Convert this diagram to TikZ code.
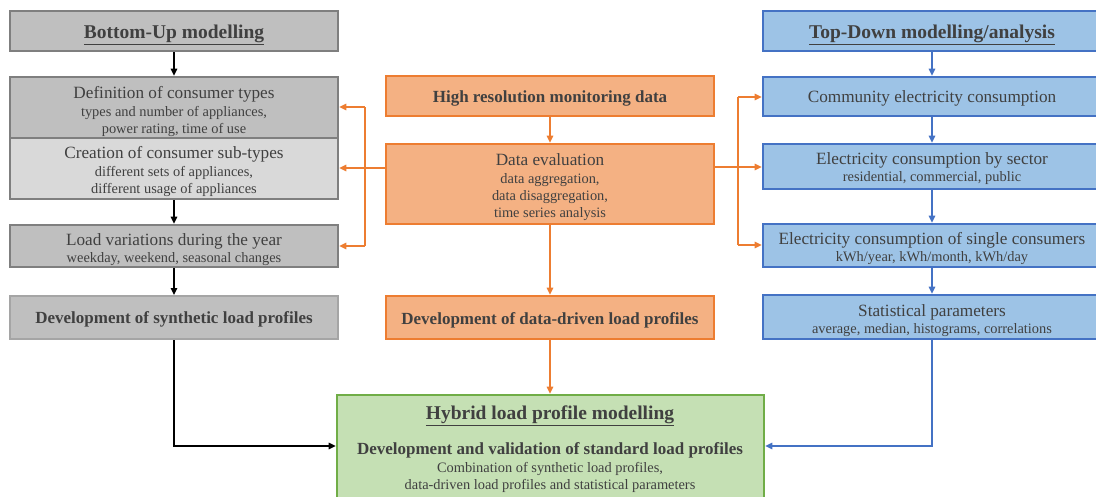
\documentclass[tikz,border=0pt]{standalone}
\usepackage{fontspec}
\setmainfont{Liberation Serif}
\usetikzlibrary{arrows.meta}

\definecolor{txt}{HTML}{404040}
\definecolor{grayfill}{HTML}{BFBFBF}
\definecolor{grayfillL}{HTML}{D9D9D9}
\definecolor{grayline}{HTML}{7F7F7F}
\definecolor{graylineL}{HTML}{A5A5A5}
\definecolor{orfill}{HTML}{F4B183}
\definecolor{orline}{HTML}{ED7D31}
\definecolor{blfill}{HTML}{9DC3E6}
\definecolor{blline}{HTML}{4472C4}
\definecolor{grfill}{HTML}{C5E0B4}
\definecolor{grline}{HTML}{70AD47}

\newcommand\fHdr{\fontsize{19.5}{23}\selectfont\bfseries}
\newcommand\fMain{\fontsize{17.2}{20}\selectfont}
\newcommand\fBold{\fontsize{17}{20}\selectfont\bfseries}
\newcommand\fSmall{\fontsize{14.4}{17}\selectfont}

\tikzset{
  box/.style={draw, line width=2.6pt, inner sep=0pt},
  graybox/.style={box, fill=grayfill, draw=grayline},
  grayboxL/.style={box, fill=grayfillL, draw=grayline},
  orbox/.style={box, fill=orfill, draw=orline},
  blbox/.style={box, fill=blfill, draw=blline},
  grbox/.style={box, fill=grfill, draw=grline},
  boxtext/.style={inner sep=0pt, align=center, text=txt, font=\fSmall},
  tip/.style={-{Triangle[length=7pt,width=6.5pt]}},
  karr/.style={tip, line width=1.4pt, draw=black},
  oarr/.style={tip, line width=1.4pt, draw=orline},
  oline/.style={line width=1.4pt, draw=orline},
  barr/.style={tip, line width=1.4pt, draw=blline},
}

\begin{document}
\begin{tikzpicture}[x=1pt,y=-1pt]
\path[use as bounding box] (0,0) rectangle (1096,496);
\clip (0,0) rectangle (1096,496);

% ---------- Bottom-up column ----------
\node[graybox, minimum width=328pt, minimum height=40pt] (hdrL) at (174,31) {};
\node[graybox, minimum width=328pt, minimum height=61pt] (def) at (174,107.5) {};
\node[grayboxL, minimum width=328pt, minimum height=61pt] (cre) at (174,168.5) {};
\node[graybox, minimum width=328pt, minimum height=42pt] (load) at (174,246) {};
\node[graybox, draw=graylineL, line width=2pt, minimum width=328pt, minimum height=43pt] (synth) at (174,317.5) {};

\node[boxtext, font=\fHdr] (hdrL-t) at ([yshift=-3.5pt]hdrL.center) {\underline{Bottom-Up modelling}};
\node[boxtext] (def-t) at ([yshift=-3.5pt]def.center)
  {{\fMain Definition of consumer types}\\[1pt]
   types and number of appliances,\\ power rating, time of use};
\node[boxtext] (cre-t) at ([yshift=-3pt]cre.center)
  {{\fMain Creation of consumer sub-types}\\[1pt]
   different sets of appliances,\\ different usage of appliances};
\node[boxtext] (load-t) at ([yshift=-4pt]load.center)
  {{\fMain Load variations during the year}\\ weekday, weekend, seasonal changes};
\node[boxtext, font=\fBold] (synth-t) at ([yshift=-2pt]synth.center)
  {Development of synthetic load profiles};

% ---------- Monitoring column ----------
\node[orbox, minimum width=328pt, minimum height=40pt] (hres) at (550,96) {};
\node[orbox, minimum width=328pt, minimum height=80pt] (deval) at (550,184) {};
\node[orbox, minimum width=328pt, minimum height=43pt] (dd) at (550,317.5) {};

\node[boxtext, font=\fBold] (hres-t) at ([yshift=-2pt]hres.center) {High resolution monitoring data};
\node[boxtext] (deval-t) at ([yshift=-3pt]deval.center)
  {{\fMain Data evaluation}\\[1pt]
   data aggregation,\\ data disaggregation,\\ time series analysis};
\node[boxtext, font=\fBold] (dd-t) at ([yshift=-2.5pt]dd.center) {Development of data-driven load profiles};

% ---------- Top-down column ----------
\node[blbox, minimum width=338pt, minimum height=40pt] (hdrR) at (932,31) {};
\node[blbox, minimum width=338pt, minimum height=39pt] (comm) at (932,96.5) {};
\node[blbox, minimum width=338pt, minimum height=45pt] (sect) at (932,166.5) {};
\node[blbox, minimum width=338pt, minimum height=43pt] (single) at (932,245.5) {};
\node[blbox, minimum width=338pt, minimum height=44pt] (stat) at (932,317) {};

\node[boxtext, font=\fHdr] (hdrR-t) at ([yshift=-3.5pt]hdrR.center) {\underline{Top-Down modelling/analysis}};
\node[boxtext, font=\fMain] (comm-t) at ([yshift=-2pt]comm.center) {Community electricity consumption};
\node[boxtext] (sect-t) at ([yshift=-2.5pt]sect.center)
  {{\fMain Electricity consumption by sector}\\ residential, commercial, public};
\node[boxtext] (single-t) at ([yshift=-3pt]single.center)
  {{\fMain Electricity consumption of single consumers}\\ kWh/year, kWh/month, kWh/day};
\node[boxtext] (stat-t) at ([yshift=-4pt]stat.center)
  {{\fMain Statistical parameters}\\ average, median, histograms, correlations};

% ---------- Hybrid modelling ----------
\node[grbox, minimum width=427pt, minimum height=108pt] (hyb) at (550.5,449) {};
\node[boxtext, font=\fHdr] (hybhdr) at (550,416)
  {\underline{Hybrid load profile modelling}};
\node[boxtext, font=\fBold] (hybsub) at (550,450.5)
  {Development and validation of standard load profiles};
\node[boxtext, anchor=north] (hybtxt) at (550,462.5)
  {Combination of synthetic load profiles,\\ data-driven load profiles and statistical parameters};

% ---------- Connectors ----------
% bottom-up flow
\draw[karr] (hdrL) -- (def);
\draw[karr] (cre) -- (load);
\draw[karr] (load) -- (synth);
\coordinate (hy) at (0,446);
\draw[karr] (synth.south) |- (hyb.west |- hy);

% monitoring flow
\draw[oarr] (hres) -- (deval);
\draw[oarr] (deval) -- (dd);
\draw[oarr] (dd.south) -- (dd.south |- hyb.north);

% evaluation results fed to the bottom-up column
\coordinate (lj) at (365,168);
\coordinate (ltop) at (365,107);
\coordinate (lbot) at (365,246);
\draw[oarr] (deval.west |- lj) -- (cre.east |- lj);
\draw[oline] (ltop) -- (lbot);
\draw[oarr] (ltop) -- (def.east |- ltop);
\draw[oarr] (lbot) -- (load.east |- lbot);

% evaluation results fed to the top-down column
\coordinate (rj) at (738,167);
\coordinate (rtop) at (738,97);
\coordinate (rbot) at (738,245);
\draw[oarr] (deval.east |- rj) -- (sect.west |- rj);
\draw[oline] (rtop) -- (rbot);
\draw[oarr] (rtop) -- (comm.west |- rtop);
\draw[oarr] (rbot) -- (single.west |- rbot);

% top-down flow
\draw[barr] (hdrR) -- (comm);
\draw[barr] (comm) -- (sect);
\draw[barr] (sect) -- (single);
\draw[barr] (single) -- (stat);
\draw[barr] (stat.south) |- (hyb.east |- hy);
\end{tikzpicture}
\end{document}
